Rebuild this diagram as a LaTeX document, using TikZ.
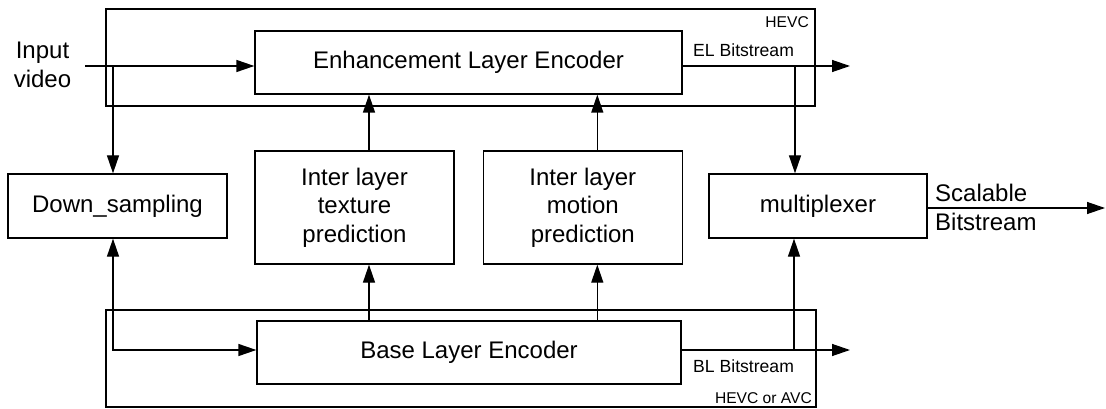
\documentclass[tikz,border=0pt]{standalone}
\usepackage{fontspec}
\setmainfont{Liberation Sans}
\usetikzlibrary{arrows.meta, positioning}

\begin{document}
\begin{tikzpicture}[
      x=1pt, y=-1pt,
      every node/.style={font=\fontsize{24}{28.5}\selectfont},
      box/.style={rectangle, draw, line width=1.3pt, align=center, inner sep=0pt},
      frame/.style={rectangle, draw, line width=1.3pt, inner sep=0pt},
      tag/.style={font=\fontsize{17.6}{20}\selectfont, inner sep=0pt},
      mini/.style={font=\fontsize{15.6}{18}\selectfont, inner sep=0pt},
      label/.style={inner sep=0pt},
      arrow/.style={-{Triangle[length=18pt,width=12pt]}, line width=1.3pt},
      dblarrow/.style={{Triangle[length=18pt,width=12pt]}-{Triangle[length=18pt,width=12pt]}, line width=1.3pt}
    ]
      \useasboundingbox (0,0) rectangle (1106,409);
      % branch points and free ends
      \coordinate (in) at (85,66);
      \coordinate (insplit) at (113,66);
      \coordinate (elsplit) at (795,66);
      \coordinate (elout) at (850,66);
      \coordinate (blsplit) at (794,350);
      \coordinate (blout) at (850,350);
      \coordinate (sbout) at (1105,208);
      % codec frames
      \node[frame, minimum width=709pt, minimum height=97pt] (hevc) at (460.5,57.5) {};
      \node[frame, minimum width=710pt, minimum height=97pt] (avc) at (461,358.5) {};
      \node[mini, anchor=base east] (hevctag) at (809,28) {HEVC};
      \node[mini, anchor=base east] (avctag) at (812,403) {HEVC or AVC};
      % blocks
      \node[box, minimum width=427pt, minimum height=63pt] (ele) at (468.5,62.5) {Enhancement Layer Encoder};
      \node[box, minimum width=219pt, minimum height=64pt] (down) at (117.5,206) {Down\_sampling};
      \node[box, minimum width=199pt, minimum height=113pt] (texture) at (354.5,207.5) {Inter layer\\texture\\prediction};
      \node[box, minimum width=199pt, minimum height=113pt, right=28pt of texture] (motion) {Inter layer\\motion\\prediction};
      \node[box, minimum width=218pt, minimum height=64pt] (mux) at (818,206) {multiplexer};
      \node[box, minimum width=424pt, minimum height=63pt] (ble) at (469,352.5) {Base Layer Encoder};
      % texts
      \node[label, align=center] (input) at (42.5,65) {Input\\video};
      \node[label, align=left, anchor=west] (scalable) at (935,207.5) {Scalable\\Bitstream};
      \node[tag, anchor=base west] (eltag) at (693,57) {EL Bitstream};
      \node[tag, anchor=base west] (bltag) at (693,372) {BL Bitstream};
      % connectors
      \draw[arrow] (in) -- (in -| ele.west);
      \draw[arrow] (insplit) -- (insplit |- down.north);
      \draw[dblarrow] (insplit |- down.south) |- (ble.west |- blout);
      \draw[arrow] ([xshift=14.5pt]texture.north) -- ([xshift=14.5pt]texture.north |- ele.south);
      \draw[arrow] ([xshift=14.5pt]motion.north) -- ([xshift=14.5pt]motion.north |- ele.south);
      \draw[arrow] ([xshift=14.5pt]texture.south |- ble.north) -- ([xshift=14.5pt]texture.south);
      \draw[arrow] ([xshift=14.5pt]motion.south |- ble.north) -- ([xshift=14.5pt]motion.south);
      \draw[arrow] (ele.east |- elout) -- (elout);
      \draw[arrow] (elsplit) -- (elsplit |- mux.north);
      \draw[arrow] (ble.east |- blout) -- (blout);
      \draw[arrow] (blsplit) -- (blsplit |- mux.south);
      \draw[arrow] (mux.east |- sbout) -- (sbout);
    \end{tikzpicture}
\end{document}
